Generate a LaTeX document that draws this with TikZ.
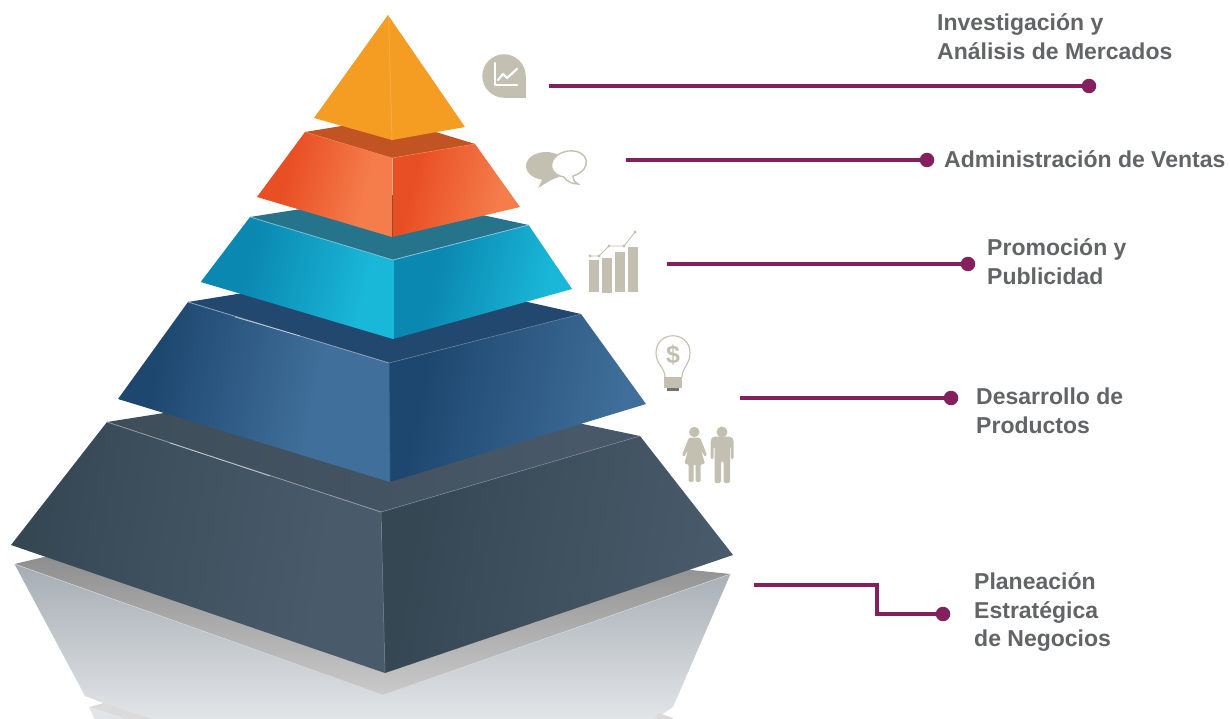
\documentclass[tikz,border=0pt]{standalone}
\usepackage{fontspec}
\setmainfont{Liberation Sans}
\definecolor{plum}{HTML}{84205E}
\definecolor{labelgrey}{HTML}{636466}
\definecolor{iconc}{HTML}{C3C0B2}
\definecolor{tipc}{HTML}{F59D23}
\definecolor{ora}{HTML}{E94F24}\definecolor{orb}{HTML}{F57C4B}\definecolor{ortop}{HTML}{C25424}
\definecolor{cya}{HTML}{0A88B2}\definecolor{cyb}{HTML}{1AB8D8}\definecolor{cytop}{HTML}{25748C}
\definecolor{bla}{HTML}{1E476F}\definecolor{blb}{HTML}{3F6F9A}\definecolor{bltop}{HTML}{234870}
\definecolor{daa}{HTML}{364754}\definecolor{dab}{HTML}{495A6A}
\definecolor{dtopa}{HTML}{3D4D59}\definecolor{dtopb}{HTML}{495868}
\definecolor{rfa}{HTML}{A5ACB3}\definecolor{rfm}{HTML}{BFC4CA}\definecolor{rfb}{HTML}{E2E5E8}
\definecolor{bda}{HTML}{7E7E7E}\definecolor{bdb}{HTML}{CACACA}
\newcommand\mkshade[5]{\pgfdeclarehorizontalshading{#1}{100bp}{color(0bp)=(#2); color(#3bp)=(#2); color(#5bp)=(#4); color(100bp)=(#4)}}
\mkshade{orL}{ora}{35}{orb}{66}
\mkshade{orR}{ora}{32}{orb}{68}
\mkshade{cyL}{cya}{36}{cyb}{70}
\mkshade{cyR}{cya}{36}{cyb}{70}
\mkshade{blL}{bla}{30}{blb}{62}
\mkshade{blR}{bla}{30}{blb}{72}
\mkshade{daL}{daa}{26}{dab}{68}
\mkshade{daR}{daa}{28}{dab}{74}
\mkshade{daT}{dtopa}{25}{dtopb}{70}
\tikzset{
  link/.style={draw=plum,line width=3.4pt},
  enddot/.style={circle,fill=plum,minimum size=14.5pt,inner sep=0pt},
  lab/.style={anchor=west,align=left,inner sep=0pt,text=labelgrey,font=\bfseries\fontsize{23}{28.8}\selectfont},
  edgehl/.style={line width=0.8pt},
  icon/.style={fill=iconc,draw=none}
}
\begin{document}
\begin{tikzpicture}[x=1pt,y=-1pt]
\fill[white] (0,0) rectangle (1230,719);
\useasboundingbox (0,0) rectangle (1230,719);
\begin{scope}
\clip (0,0) rectangle (1230,719);
% reflection
\shade[top color=rfa,middle color=rfm,bottom color=rfb]
  (14.5,564) -- (383,695) -- (730.5,574) -- (673,707) -- (655,719) -- (145,719) -- (85,696) -- cycle;
\shade[top color=bda,bottom color=bdb] (14.5,564) -- (200,520) -- (730.5,574) -- (383,695) -- cycle;
\draw[white!85!black,line width=0.5pt] (14.5,564) -- (383,695) -- (730.5,574);
\fill[black!14] (89,707) -- (104,703) -- (152,719) -- (126,719) -- cycle;
\fill[rfb] (89,707) -- (126,719) -- (94.5,719) -- cycle;
\fill[black!14] (659,713) -- (673,718) -- (673,719) -- (655,719) -- cycle;
% dark tier
\shade[shading=daT] (107,422) -- (373,380) -- (640,436) -- (381,512) -- cycle;
\shade[shading=daL,shading angle=-10] (107,422) -- (381,512) -- (385,673) -- (11,545) -- cycle;
\shade[shading=daR,shading angle=-10] (381,512) -- (640,436) -- (733,555) -- (385,673) -- cycle;
\draw[edgehl,draw=white!40!dab] (107,422) -- (381,512);
\draw[edgehl,draw=white!75!dab,line width=0.5pt] (170,443) -- (270,476);
\draw[edgehl,draw=white!30!dab,line width=0.5pt] (381,512) -- (640,436);
\draw[draw=white!25!dab,line width=0.5pt] (381,512) -- (385,673);
% blue tier
\fill[bltop] (188,302) -- (385,270) -- (581,314) -- (389,363) -- cycle;
\shade[shading=blL,shading angle=-12] (188,302) -- (389,363) -- (390,482) -- (118,399) -- cycle;
\shade[shading=blR,shading angle=-12] (389,363) -- (581,314) -- (646,404) -- (390,482) -- cycle;
\draw[edgehl,draw=white!50!bla] (188,302) -- (389,363);
\draw[edgehl,draw=white!80!bla,line width=0.5pt] (235,317) -- (300,336);
\draw[edgehl,draw=white!30!bla,line width=0.6pt] (389,363) -- (581,314);
\draw[draw=blb,line width=0.5pt] (389,363) -- (390,482);
% cyan tier
\fill[cytop] (250,217) -- (390,195) -- (528.6,225) -- (393,260) -- cycle;
\shade[shading=cyL,shading angle=-14] (250,217) -- (393,260) -- (393,339) -- (200.7,282) -- cycle;
\shade[shading=cyR,shading angle=-14] (393,260) -- (528.6,225) -- (572,289) -- (393,339) -- cycle;
\draw[edgehl,draw=white!45!cya] (250,217) -- (393,260);
\draw[edgehl,draw=white!50!cya] (393,260) -- (528.6,225);
\draw[draw=cyb,line width=0.5pt] (393,260) -- (393,339);
% orange tier
\fill[ortop] (305,132) -- (390,118) -- (475,144) -- (392,158) -- cycle;
\shade[shading=orL,shading angle=-14] (305,132) -- (392,158) -- (392,237) -- (257,197) -- cycle;
\shade[shading=orR,shading angle=-14] (392,158) -- (475,144) -- (520,207) -- (392,237) -- cycle;
\draw[edgehl,draw=orb,line width=0.5pt] (305,132) -- (392,158) -- (475,144);
\draw[draw=white!35!orb,line width=0.5pt] (392,158) -- (392,195);
\draw[draw=black!40!orb,line width=0.5pt] (392,195) -- (392,237);
% tip
\fill[tipc] (388,15) -- (465,127) -- (392,140) -- (314,118) -- cycle;
\draw[draw=white!25!tipc,line width=0.5pt] (388.5,15) -- (392,140);
\end{scope}
% icon: chart bubble
\fill[icon] (504,76) circle[radius=21.7pt];
\fill[icon] (504,76) rectangle (526,98);
\draw[white,line width=2.4pt,line cap=round,line join=round] (495,63) -- (495,85) -- (517,85);
\draw[white,line width=2.2pt,line cap=round,line join=round] (498,80) -- (503,74) -- (507,78) -- (517,69);
% icon: speech bubbles
\fill[icon] (546,166) ellipse[x radius=20pt,y radius=14pt];
\fill[icon] (544,176) -- (538,188) -- (556,177) -- cycle;
\filldraw[fill=white,draw=iconc,line width=1.4pt] (560,176) .. controls (548,172) and (547,155) .. (568,151) .. controls (590,149) and (593,170) .. (573,176) .. controls (573,180) and (575,183) .. (578,184) .. controls (572,184) and (566,181) .. (564,177) .. controls (563,177) and (561,176) .. (560,176) -- cycle;
% icon: bars
\fill[icon] (589,260) rectangle (599,292);
\fill[icon] (602,258) rectangle (612,293);
\fill[icon] (615,252) rectangle (625,292);
\fill[icon] (628,247) rectangle (638,292);
\draw[iconc,line width=0.9pt] (590,256) -- (599,256) -- (609,246) -- (624,246) -- (635,232);
\foreach \px/\py in {590/256,599/256,609/246,624/246,635/232} \fill[iconc] (\px,\py) circle[radius=1.6pt];
% icon: bulb
\draw[iconc,line width=1.1pt] (665,377) .. controls (665,368) and (656,364) .. (656,353) .. controls (656,330) and (690,330) .. (690,353) .. controls (690,364) and (682,368) .. (682,377);
\fill[icon] (664,377) rectangle (682,388);
\fill[black!55] (667,388) rectangle (679,390.5);
\node[text=iconc,inner sep=0pt,font=\bfseries\fontsize{25}{25}\selectfont] (dollar) at (673,355) {\$};
% icon: people
\fill[icon] (694.3,432) circle[radius=5.2pt];
\fill[icon] (722,432) circle[radius=5.5pt];
\fill[icon,rounded corners=1.5pt] (689,437.5) -- (700,437.5) -- (707,455) -- (705,457) -- (701,450) -- (705,464) -- (700.5,464) -- (700.5,482) -- (695.5,482) -- (695.5,464) -- (693.5,464) -- (693.5,482) -- (688.5,482) -- (688.5,464) -- (684.3,464) -- (688,450) -- (684,457) -- (682,455) -- cycle;
\fill[icon,rounded corners=2pt] (712.5,436.5) -- (731.5,436.5) -- (733.7,440) -- (733.7,459) -- (730.8,459) -- (730.8,446) -- (730,446) -- (730,483) -- (723.5,483) -- (723.5,461) -- (721,461) -- (721,483) -- (714.5,483) -- (714.5,446) -- (713.7,446) -- (713.7,459) -- (710.7,459) -- (710.7,440) -- cycle;
% connectors
\coordinate (s1) at (549,86);
\coordinate (s2) at (626,160);
\coordinate (s3) at (667,264);
\coordinate (s4) at (740,398);
\coordinate (s5) at (754,585);
\node[enddot] (d1) at (1089,86) {};
\node[enddot] (d2) at (927,160) {};
\node[enddot] (d3) at (968,264) {};
\node[enddot] (d4) at (951,398) {};
\node[enddot] (d5) at (943,614) {};
\draw[link] (s1) -- (d1);
\draw[link] (s2) -- (d2);
\draw[link] (s3) -- (d3);
\draw[link] (s4) -- (d4);
\draw[link] (s5) -- (877,585) -- (877,614) -- (d5);
% labels
\node[lab] (t1) at (937,37) {Investigación y\\Análisis de Mercados};
\node[lab] (t2) at (944,159) {Administración de Ventas};
\node[lab] (t3) at (987,262) {Promoción y\\Publicidad};
\node[lab] (t4) at (976,411) {Desarrollo de\\Productos};
\node[lab] (t5) at (974,612) {Planeación\\Estratégica\\de Negocios};
\end{tikzpicture}
\end{document}
